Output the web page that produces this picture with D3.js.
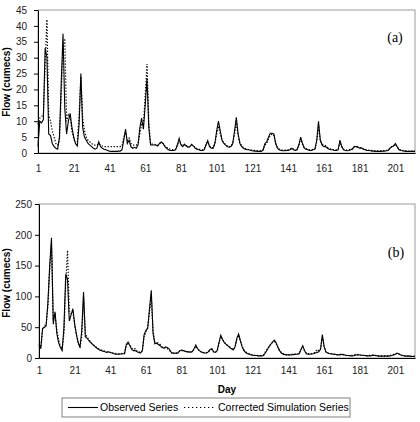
<!DOCTYPE html>
<html>
<head>
<meta charset="utf-8">
<script src="https://cdn.jsdelivr.net/npm/d3@7"></script>
<style>
  body { margin: 0; background: #fff; }
  svg { display: block; font-family: "Liberation Sans", Arial, sans-serif; }
</style>
</head>
<body>
<div id="chart"></div>
<script>
// x tick labels (day numbers)
var xTicks = [1, 21, 41, 61, 81, 101, 121, 141, 161, 181, 201];
var yTicksA = [0, 5, 10, 15, 20, 25, 30, 35, 40, 45];
var yTicksB = [0, 50, 100, 150, 200, 250];

// panel (a) daily flow, day 1..212
var observedA = [
  2,10,9.5,10.5,33,30,6,5.5,3,2,
  1.5,1.2,5,22,37.5,14,6,10,12.5,8,
  5,3,2.2,9,25,8,5,4,3,2.5,
  2,1.5,1.2,1.5,3.5,2,1.5,1.2,1,0.8,
  0.6,0.5,0.5,0.5,0.5,0.6,0.6,1,4,7.5,
  3,4,2,1.5,1.8,1.5,2.5,8,11,7.5,
  15,23.5,8,2.5,2.5,2.5,2.5,2.2,3,3.5,
  3,2,1.5,1,0.8,0.8,0.8,1,2.5,4.6,
  2.5,2,2.8,2.2,1.8,2,2.7,2.2,1.5,1.2,
  1,0.8,0.8,1,2.5,3.9,2,1.5,1.5,3,
  7,10,7,4,3,2.5,2,1.8,2,3,
  7,11.2,6,3,2,1.5,1.2,1,1,0.8,
  0.7,0.6,0.6,0.5,0.5,0.5,1,3,3.5,5,
  6.2,6.2,6,3,1.5,1,0.8,0.7,0.7,0.8,
  0.8,1,1.5,1,0.8,1,2.5,5,3,1.5,
  1.2,1,0.8,0.8,1,1.2,4,10,4,2.5,
  2,2,1.5,1.2,1,1,0.8,0.8,1,4,
  2,1,0.8,0.7,0.8,1,1.2,2,2,1.8,
  1.5,1.6,1.2,1,0.8,0.8,0.7,0.6,0.6,0.5,
  0.5,0.5,0.5,0.6,0.6,0.7,0.8,1.5,2,2.2,
  3,2,1,0.8,0.7,0.6,0.5,0.5,0.5,0.5,
  0.5,0.5
];
var simulatedA = [
  9,11,11.5,12,28,42,12,10,7,5,
  3,2.5,4,18,33,36,10,12,11,7,
  4.5,3,3.5,12,24,11,7,5,4,3.5,
  3,2.5,2.5,2.5,3,2.5,2.2,2,2,2,
  2,2,2,2,2,2,2,2.2,5,6.5,
  4,4.7,3,2.5,2.5,2.5,3,6,9,9,
  18,28,10,3,2.8,2.8,2.6,2.4,3,3.2,
  3,2.2,1.8,1.4,1.2,1.1,1.1,1.2,2.5,4,
  2.8,2.2,2.6,2.3,2,2,2.5,2.2,1.7,1.4,
  1.2,1.1,1,1.2,2.5,3.5,2.2,1.7,1.7,3,
  6,8.5,6,4,3.2,2.7,2.2,2,2.2,3,
  6,9.5,5.5,3.2,2.2,1.7,1.4,1.2,1.1,1,
  0.9,0.8,0.8,0.7,0.7,0.7,1,2.5,3,4.5,
  5.5,6,5.5,3.2,1.8,1.2,1,0.9,0.9,1,
  1,1.2,1.5,1.2,1,1.2,2.5,4.5,3,1.8,
  1.4,1.2,1,1,1.2,1.4,3.5,8.5,4,2.8,
  2.5,2.3,1.8,1.4,1.2,1.1,1,1,1.2,3.5,
  2,1.2,1,0.9,1,1.2,1.5,2,2.2,2,
  1.8,1.6,1.4,1.2,1,0.9,0.8,0.8,0.7,0.7,
  0.7,0.7,0.7,0.7,0.8,0.8,0.9,1.5,2,2.2,
  2.7,2,1.2,1,0.8,0.7,0.7,0.6,0.6,0.6,
  0.6,0.6
];

// panel (b) daily flow, day 1..212
var observedB = [
  23,15,48,50,52,90,150,195,55,75,
  40,25,17,12,50,136,128,60,70,80,
  55,38,25,17,45,107,34,32,28,25,
  22,20,17,15,13,12,11,10,9,10,
  9,8,7,6,6,6,6.5,7,7,22,
  26,20,14,12,12,10,9,8,12,38,
  45,48,80,110,40,23,24,22,20,17,
  16,18,17,15,10,8,8,7.5,8,12,
  13,12,11,10,10,9.5,10,15,21,15,
  12,10,8.5,8,8,10,14,15,10,9,
  12,25,37,30,25,22,20,17,15,13,
  18,32,39,28,18,12,9,7,6,5,
  4.5,4,4,3.5,3.5,3.5,4,8,13,18,
  22,26,29,25,18,12,8,6,5.5,5,
  5,5,5.5,5.5,6,6,7,14,20,12,
  7,6,6,6.5,7,8,9,10,14,38,
  18,10,8,7,7,6,6,5.5,5,5,
  6,5.5,4.5,4,4,3.5,3.5,4,5,5.5,
  5,4.5,4,4,3.5,3.5,3.5,4,4.5,4,
  3.5,3,3,3,3,3,3,3.5,4,5,
  6,8,6.5,5,4,3.5,3,3,3,2.5,
  2.5,2.5
];
var simulatedB = [
  20,18,45,52,55,85,145,185,65,70,
  45,30,20,15,40,120,175,75,72,75,
  55,38,25,18,35,100,40,34,30,26,
  23,20,18,16,14,13,12,11,10,10,
  9,8.5,8,7.5,7,7,7,7.5,8,20,
  25,21,16,14,15,11,10,9,12,35,
  42,50,75,100,45,26,26,24,22,18,
  17,16,15,13,10,6,8,8,9,11,
  12,12,11,10.5,10,10,10.5,14,19,15,
  12,10,9,8.5,8.5,10,13,14,10,9.5,
  12,24,35,30,26,22,20,18,16,14,
  17,30,37,28,19,13,10,8,7,6,
  5,4.5,4.5,4,4,4,5,10,14,18,
  22,25,27,24,18,12,9,7,6,5.5,
  5.5,5.5,6,6,6.5,6.5,7.5,13,18,12,
  8,7,7,7,8,9,14,12,15,34,
  20,10,8,7.5,7,6.5,6,5.5,5.5,6,
  5.5,5,4.5,4.5,4,4,4.5,5.5,6,5.5,
  5,4.5,4.5,4,4,4,4.5,5,4.5,4,
  3.5,3.5,3.5,3.5,3.5,3.5,4,4.5,5,6,
  6.5,7.5,6.5,5,4.5,4,3.5,3.5,3.5,3,
  3,3
];

var svg = d3.select("#chart")
  .append("svg")
    .attr("width", 420)
    .attr("height", 422);

function drawPanel(p) {
  var x = d3.scaleLinear()
    .domain([1, p.obs.length])
    .range([p.left, p.right]);
  var y = d3.scaleLinear()
    .domain([0, p.yMax])
    .range([p.bottom, p.top]);

  var g = svg.append("g");

  // plot area frame
  g.append("rect")
    .attr("x", p.left)
    .attr("y", p.top)
    .attr("width", p.right - p.left)
    .attr("height", p.bottom - p.top)
    .attr("fill", "none")
    .attr("stroke", "#9c9c9c");

  // Y axis
  var yAxis = g.append("g")
    .attr("transform", "translate(" + p.left + ",0)")
    .call(d3.axisLeft(y).tickValues(p.yTicks).tickSize(4).tickSizeOuter(0).tickPadding(p.yPad));
  yAxis.selectAll("text").style("font-size", "10px").attr("fill", "#222");

  // X axis
  var xAxis = g.append("g")
    .attr("transform", "translate(0," + p.bottom + ")")
    .call(d3.axisBottom(x).tickValues(xTicks).tickSize(0).tickSizeOuter(0).tickPadding(p.xPad));
  xAxis.selectAll("text").style("font-size", "10px").attr("fill", "#222");

  // Y axis label
  g.append("text")
    .attr("text-anchor", "middle")
    .attr("transform", "translate(10," + p.labelY + ") rotate(-90)")
    .style("font-size", "10px")
    .style("font-weight", "bold")
    .text("Flow (cumecs)");

  var line = d3.line()
    .x(function(d, i) { return x(i + 1); })
    .y(function(d) { return y(d); });

  g.append("path")
    .datum(p.sim)
    .attr("d", line)
    .attr("fill", "none")
    .attr("stroke", "#000")
    .attr("stroke-width", 1.2)
    .attr("stroke-dasharray", "1.3,1.7");

  g.append("path")
    .datum(p.obs)
    .attr("d", line)
    .attr("fill", "none")
    .attr("stroke", "#000")
    .attr("stroke-width", 1.1);

  // panel tag
  g.append("text")
    .attr("x", p.tagX)
    .attr("y", p.tagY)
    .attr("text-anchor", "middle")
    .style("font-family", "'Liberation Serif', 'Times New Roman', serif")
    .style("font-size", "14px")
    .text(p.tag);
}

drawPanel({obs: observedA, sim: simulatedA, yMax: 45, yTicks: yTicksA,
  left: 38, right: 415, top: 10, bottom: 153, yPad: 7, xPad: 12,
  labelY: 82, tag: "(a)", tagX: 395, tagY: 42});
drawPanel({obs: observedB, sim: simulatedB, yMax: 250, yTicks: yTicksB,
  left: 39, right: 415, top: 204, bottom: 358, yPad: 3, xPad: 9,
  labelY: 283, tag: "(b)", tagX: 396, tagY: 257});

// X axis title
svg.append("text")
  .attr("x", 227)
  .attr("y", 393)
  .attr("text-anchor", "middle")
  .style("font-size", "10px")
  .style("font-weight", "bold")
  .text("Day");

// legend
var legend = svg.append("g");
legend.append("rect")
  .attr("x", 62).attr("y", 398)
  .attr("width", 288).attr("height", 19)
  .attr("fill", "#fff")
  .attr("stroke", "#808080");
legend.append("line")
  .attr("x1", 68).attr("x2", 98).attr("y1", 407.5).attr("y2", 407.5)
  .attr("stroke", "#000").attr("stroke-width", 1.1);
legend.append("text")
  .attr("x", 100).attr("y", 411)
  .style("font-size", "10.5px")
  .text("Observed Series");
legend.append("line")
  .attr("x1", 184).attr("x2", 215).attr("y1", 407.5).attr("y2", 407.5)
  .attr("stroke", "#000").attr("stroke-width", 1.2)
  .attr("stroke-dasharray", "1.3,2.7");
legend.append("text")
  .attr("x", 218).attr("y", 411)
  .style("font-size", "10.5px")
  .text("Corrected Simulation Series");
</script>
</body>
</html>
